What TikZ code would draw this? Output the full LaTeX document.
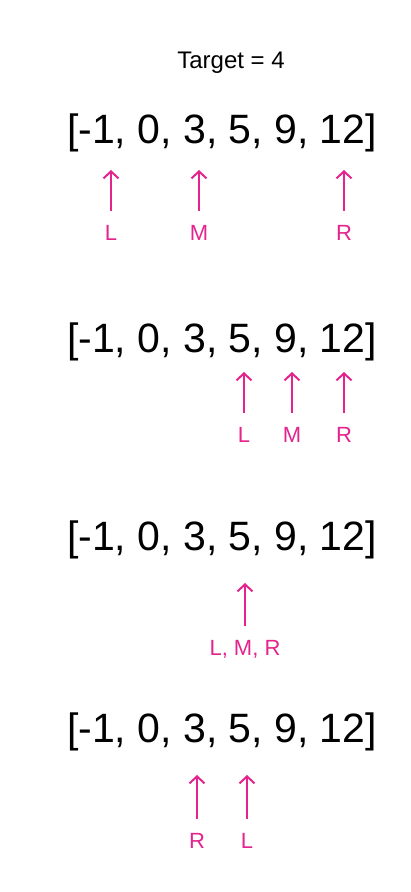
\documentclass[tikz,border=0pt]{standalone}
\usepackage{fontspec}
\setmainfont{Liberation Sans}
\usepackage{tikz}
\usetikzlibrary{positioning, arrows.meta}
\definecolor{pointerpink}{RGB}{228, 35, 140}

\begin{document}
\begin{tikzpicture}[
    x=1pt, y=-1pt,
    title/.style={anchor=base, font=\fontsize{24}{28}\selectfont},
    array/.style={anchor=base, inner sep=0pt, font=\fontsize{41}{49}\selectfont},
    ptr/.style={anchor=base, text=pointerpink, inner sep=0pt, font=\fontsize{22}{26}\selectfont},
    ptrarrow/.style={-{Straight Barb[length=7pt, width=15pt]}, line width=2pt, pointerpink, shorten <=14pt}
]
    \useasboundingbox (0,0) rectangle (410,892);

    % Title
    \node[title] (target) at (231,68) {Target = 4};

    % Arrays
    \node[array] (arrA) at (222,143) {[-1, 0, 3, 5, 9, 12]};
    \node[array] (arrB) at (222,352) {[-1, 0, 3, 5, 9, 12]};
    \node[array] (arrC) at (222,550) {[-1, 0, 3, 5, 9, 12]};
    \node[array] (arrD) at (222,742) {[-1, 0, 3, 5, 9, 12]};

    % Step 1
    \node[ptr] (lA) at (111,240) {L};
    \node[ptr] (mA) at (199,240) {M};
    \node[ptr] (rA) at (344,240) {R};
    \coordinate (lAtip) at (111,170);
    \coordinate (mAtip) at (199,170);
    \coordinate (rAtip) at (344,170);

    % Step 2
    \node[ptr] (lB) at (244,442) {L};
    \node[ptr] (mB) at (292,442) {M};
    \node[ptr] (rB) at (344,442) {R};
    \coordinate (lBtip) at (244,372);
    \coordinate (mBtip) at (292,372);
    \coordinate (rBtip) at (344,372);

    % Step 3
    \node[ptr] (lmrC) at (245,655) {L, M, R};
    \coordinate (lmrCtip) at (245,583);

    % Step 4
    \node[ptr] (rD) at (197,848) {R};
    \node[ptr] (lD) at (247,848) {L};
    \coordinate (rDtip) at (197,775);
    \coordinate (lDtip) at (247,775);

    % Arrows
    \draw[ptrarrow] (lA.north) -- (lAtip);
    \draw[ptrarrow] (mA.north) -- (mAtip);
    \draw[ptrarrow] (rA.north) -- (rAtip);
    \draw[ptrarrow] (lB.north) -- (lBtip);
    \draw[ptrarrow] (mB.north) -- (mBtip);
    \draw[ptrarrow] (rB.north) -- (rBtip);
    \draw[ptrarrow] (lmrC.north) -- (lmrCtip);
    \draw[ptrarrow] (rD.north) -- (rDtip);
    \draw[ptrarrow] (lD.north) -- (lDtip);
\end{tikzpicture}
\end{document}
